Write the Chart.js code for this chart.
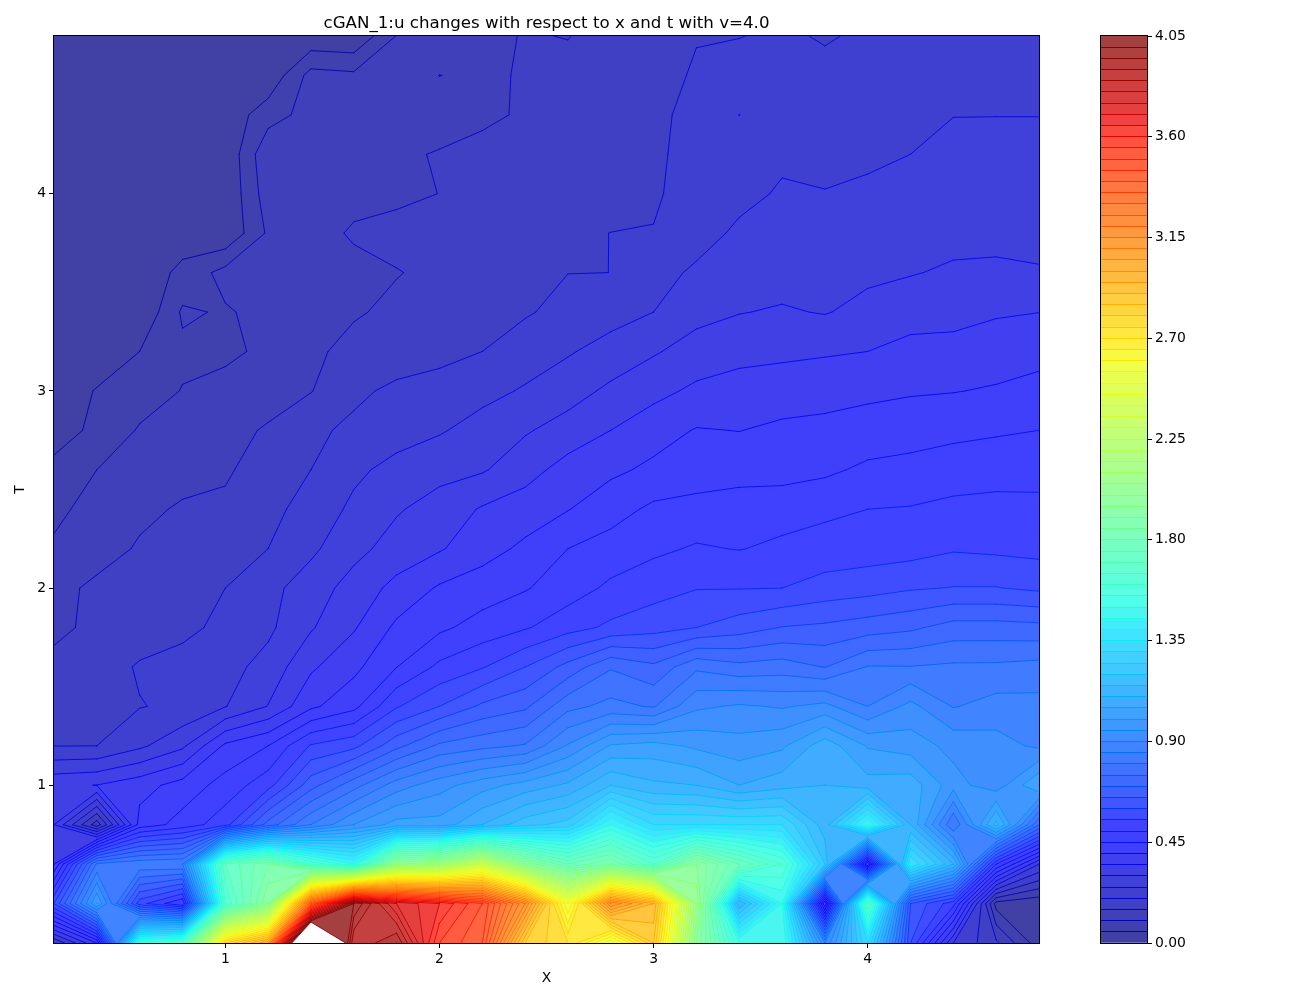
<!DOCTYPE html>
<html><head><meta charset="utf-8">
<style>html,body{margin:0;padding:0;background:#fff;width:1300px;height:1000px;overflow:hidden}
canvas{position:absolute;top:0}</style>
<script src="https://cdn.jsdelivr.net/npm/chart.js@4"></script>
</head><body>
<canvas id="main" width="1092" height="1000" style="left:0;width:1092px;height:1000px"></canvas>
<canvas id="bar" width="208" height="1000" style="left:1092px;width:208px;height:1000px"></canvas>
<script>
const titleText = 'cGAN_1:u changes with respect to x and t with v=4.0';
const xValues = [0.2,0.4,0.6,0.8,1.0,1.2,1.4,1.6,1.8,2.0,2.2,2.4,2.6,2.8,3.0,3.2,3.4,3.6,3.8,4.0,4.2,4.4,4.6,4.8];
const tValues = [0.2,0.4,0.6,0.8,1.0,1.2,1.4,1.6,1.8,2.0,2.2,2.4,2.6,2.8,3.0,3.2,3.4,3.6,3.8,4.0,4.2,4.4,4.6,4.8];
const xTicks = [1,2,3,4];
const yTicks = [1,2,3,4];
const barTicks = [0,0.45,0.9,1.35,1.8,2.25,2.7,3.15,3.6,4.05];
const levels = [0,0.05,0.1,0.15,0.2,0.25,0.3,0.35,0.4,0.45,0.5,0.55,0.6,0.65,0.7,0.75,0.8,0.85,0.9,0.95,1,1.05,1.1,1.15,1.2,1.25,1.3,1.35,1.4,1.45,1.5,1.55,1.6,1.65,1.7,1.75,1.8,1.85,1.9,1.95,2,2.05,2.1,2.15,2.2,2.25,2.3,2.35,2.4,2.45,2.5,2.55,2.6,2.65,2.7,2.75,2.8,2.85,2.9,2.95,3,3.05,3.1,3.15,3.2,3.25,3.3,3.35,3.4,3.45,3.5,3.55,3.6,3.65,3.7,3.75,3.8,3.85,3.9,3.95,4,4.05];

const uT48=[.02,.02,.02,.02,.02,.02,.01,.005,.102,.12,.141,.152,.149,.163,.178,.197,.199,.206,.1965,.206,.215,.22,.225,.23];
const uT46=[.02,.02,.02,.02,.02,.01,.118,.11,.125,.1505,.142,.154,.159,.172,.177,.207,.215,.22,.2105,.22,.225,.23,.23,.235];
const uT44=[.02,.02,.02,.02,.015,.079,.118,.12,.125,.13,.14,.156,.16,.17,.19,.213,.2503,.23,.225,.23,.24,.249,.249,.249];
const uT42=[.02,.02,.02,.02,.007,.14,.14,.14,.143,.153,.165,.17,.175,.18,.195,.21,.225,.241,.235,.24,.25,.265,.27,.27];
const uT40=[.02,.02,.02,.02,.005,.127,.13,.135,.14,.1505,.165,.17,.175,.18,.195,.2165,.235,.256,.252,.26,.275,.28,.285,.285];
const uT38=[.02,.02,.02,.02,.005,.108,.13,.156,.165,.17,.175,.18,.19,.2005,.2015,.228,.26,.275,.28,.285,.29,.285,.285,.285];
const uT36=[.005,.01,.012,.065,.117,.125,.13,.135,.148,.16,.17,.185,.1995,.20003,.23,.259,.275,.28,.285,.29,.297,.307,.31,.304];
const uT34=[.005,.01,.005,.107,.095,.115,.125,.145,.16,.17,.18,.195,.215,.23,.25,.285,.298,.305,.297,.315,.33,.335,.345,.3495];
const uT32=[.01,.03,.05,.09,.095,.105,.14,.165,.175,.185,.2,.225,.245,.27,.295,.32,.335,.34,.345,.35,.365,.365,.375,.385];
const uT30=[.03,.052,.075,.102,.108,.13,.148,.19,.21,.22,.235,.255,.28,.31,.335,.36,.37,.375,.38,.39,.395,.398,.405,.415];
const uT28=[.03,.06,.105,.12,.135,.155,.19,.21,.23,.245,.27,.295,.32,.35,.38,.403,.399,.41,.415,.42,.43,.44,.445,.45];
const uT26=[.062,.1,.125,.135,.143,.175,.2,.24,.265,.285,.295,.33,.37,.39,.41,.42,.43,.43,.44,.46,.465,.47,.475,.48];
const uT24=[.087,.12,.14,.155,.16,.185,.22,.26,.295,.32,.355,.375,.398,.43,.46,.47,.475,.48,.49,.5,.503,.515,.52,.515];
const uT22=[.108,.13,.155,.17,.185,.2,.24,.285,.32,.345,.38,.41,.45,.47,.49,.505,.498,.51,.52,.525,.53,.545,.54,.535];
const uT20=[.135,.16,.175,.185,.2,.235,.275,.32,.365,.406,.425,.446,.476,.51,.53,.548,.548,.55,.57,.58,.595,.602,.602,.59];
const uT18=[.14,.16,.175,.19,.21,.24,.295,.345,.41,.44,.47,.495,.53,.56,.58,.6,.625,.652,.66,.675,.69,.72,.72,.715];
const uT16=[.162,.176,.205,.215,.233,.267,.342,.387,.449,.511,.546,.6,.667,.745,.711,.79,.765,.775,.748,.803,.802,.809,.81,.818];
const uT14=[.18,.188,.198,.209,.248,.302,.39,.435,.545,.6,.66,.69,.785,.815,.795,.89,.907,.895,.915,.85,.915,.847,.87,.867];
const uT12=[.199,.2,.24,.29,.41,.45,.555,.585,.685,.76,.785,.805,.905,1.005,1.02,.99,.97,.99,1.08,.995,.975,.935,.92,.89];
const uT10=[.34,.351,.38,.42,.47,.53,.68,.78,.875,.93,.98,1.02,1.06,1.15,1.11,1.1,1.05,1.08,1.1,1.07,1.08,.97,.92,1.05];
const uT08=[.3,.07,.42,.47,.53,.72,.85,.95,1.02,1.02,1.1,1.18,1.22,1.45,1.3,1.3,1.3,1.3,1.12,1.45,1.1,.8,1.12,.75];
const uT06=[.35,.81,.84,.85,1.7,1.85,1.6,1.45,2.0,2.05,2.3,1.95,1.75,1.85,1.65,1.95,1.75,1.6,1.2,.35,1.35,1.1,.5,.25];
const uT04=[.6,1.0,.57,.45,1.6,1.95,3.3,4.0,3.75,3.65,3.5,3.15,2.55,3.15,2.95,2.05,1.1,1.45,.3,1.65,.65,.52,.03,.01];
const uT02=[.15,.35,1.5,1.6,2.75,3.0,4.9,3.85,3.95,3.55,3.45,2.85,2.75,2.5,2.85,1.95,1.5,1.5,.9,1.3,.6,.25,.16,.02];
const uRows=[uT02,uT04,uT06,uT08,uT10,uT12,uT14,uT16,uT18,uT20,uT22,uT24,uT26,uT28,uT30,uT32,uT34,uT36,uT38,uT40,uT42,uT44,uT46,uT48];

const FONT="'DejaVu Sans'";
const ALPHA=0.75, LINE_W=0.9, LINE_ALPHA=0.95, LINE_SHIFT=0.1;
const vmax=levels[levels.length-1];
function seg(v,pts){ for(let i=1;i<pts.length;i++){ if(v<=pts[i][0]){const a=pts[i-1],b=pts[i];return a[1]+(b[1]-a[1])*(v-a[0])/(b[0]-a[0]);} } return pts[pts.length-1][1]; }
function jet(z){ const v=Math.max(0,Math.min(1,z/vmax));
  return [seg(v,[[0,0],[.35,0],[.66,1],[.89,1],[1,.5]]),
          seg(v,[[0,0],[.125,0],[.375,1],[.64,1],[.91,0],[1,0]]),
          seg(v,[[0,.5],[.11,1],[.34,1],[.65,0],[1,0]])]; }
function fillColor(z){ const c=jet(z); return 'rgb('+c.map(k=>Math.round(255*(ALPHA*k+1-ALPHA))).join(',')+')'; }
function lineColor(z){ const c=jet(z+LINE_SHIFT); return 'rgba('+c.map(k=>Math.round(255*k)).join(',')+','+LINE_ALPHA+')'; }

function traceHigh(ctx,p,v,L){
  const hi=v.map(k=>k>=L), n=hi.filter(Boolean).length;
  if(n===0) return;
  const cut=(a,b)=>{const t=(L-v[a])/(v[b]-v[a]);return [p[a][0]+(p[b][0]-p[a][0])*t,p[a][1]+(p[b][1]-p[a][1])*t];};
  const poly=(arr)=>{ctx.moveTo(arr[0][0],arr[0][1]);for(let i=1;i<arr.length;i++)ctx.lineTo(arr[i][0],arr[i][1]);ctx.closePath();};
  const m=(v[0]+v[1]+v[2]+v[3])/4;
  if(n===2&&hi[0]===hi[2]&&m<L){
    for(let i=0;i<4;i++) if(hi[i]){const a=(i+3)%4,b=(i+1)%4;poly([cut(a,i),p[i],cut(i,b)]);}
    return;
  }
  const out=[];
  for(let i=0;i<4;i++){const k=(i+1)%4; if(hi[i])out.push(p[i]); if(hi[i]!==hi[k])out.push(cut(i,k));}
  poly(out);
}
function traceLine(ctx,p,v,L){
  const hi=v.map(k=>k>=L), n=hi.filter(Boolean).length;
  if(n===0||n===4) return;
  const cut=(a,b)=>{const t=(L-v[a])/(v[b]-v[a]);return [p[a][0]+(p[b][0]-p[a][0])*t,p[a][1]+(p[b][1]-p[a][1])*t];};
  const s=(a,b)=>{ctx.moveTo(a[0],a[1]);ctx.lineTo(b[0],b[1]);};
  if(n===2&&hi[0]===hi[2]){
    const m=(v[0]+v[1]+v[2]+v[3])/4, around=(m<L);
    for(let i=0;i<4;i++) if(hi[i]===around) s(cut((i+3)%4,i),cut(i,(i+1)%4));
    return;
  }
  const c=[];for(let i=0;i<4;i++){const k=(i+1)%4;if(hi[i]!==hi[k])c.push(cut(i,k));}
  s(c[0],c[1]);
}
const contourPlugin={id:'contour',beforeDatasetsDraw(chart){
  const {ctx,chartArea:a,scales:{x,y}}=chart;
  const px=xValues.map(v=>x.getPixelForValue(v)), py=tValues.map(v=>y.getPixelForValue(v));
  ctx.save();ctx.beginPath();ctx.rect(a.left,a.top,a.right-a.left,a.bottom-a.top);ctx.clip();
  const eachCell=(fn)=>{for(let j=0;j<tValues.length-1;j++)for(let i=0;i<xValues.length-1;i++){
    fn([[px[i],py[j]],[px[i+1],py[j]],[px[i+1],py[j+1]],[px[i],py[j+1]]],[uRows[j][i],uRows[j][i+1],uRows[j+1][i+1],uRows[j+1][i]]);}};
  for(let l=0;l<levels.length;l++){
    const L=levels[l];
    ctx.beginPath();
    eachCell((p,v)=>traceHigh(ctx,p,v,L));
    ctx.fillStyle=(l<levels.length-1)?fillColor((L+levels[l+1])/2):'#fff';
    ctx.fill();
  }
  ctx.lineWidth=LINE_W;ctx.lineCap='round';
  for(let l=1;l<levels.length;l++){
    const L=levels[l];
    ctx.beginPath();
    eachCell((p,v)=>traceLine(ctx,p,v,L));
    ctx.strokeStyle=lineColor(L);
    ctx.stroke();
  }
  ctx.restore();
}};
const framePlugin={id:'frame',afterDraw(chart){
  const {ctx,chartArea:a}=chart;ctx.save();ctx.strokeStyle='#000';ctx.lineWidth=1;
  ctx.strokeRect(Math.round(a.left)-.5,Math.round(a.top)-.5,Math.round(a.right-a.left)+1,Math.round(a.bottom-a.top)+1);ctx.restore();
}};
const barLinesPlugin={id:'barLines',afterDatasetsDraw(chart){
  const {ctx,chartArea:a,scales:{y}}=chart;ctx.save();ctx.lineWidth=1;
  for(let l=1;l<levels.length-1;l++){const py=Math.floor(y.getPixelForValue(levels[l]))+.5;ctx.strokeStyle=lineColor(levels[l]);
    ctx.beginPath();ctx.moveTo(a.left,py);ctx.lineTo(a.right,py);ctx.stroke();}
  ctx.restore();
}};
const tickFont={family:FONT,size:13.9};
const axisBase=(ticks)=>({
  type:'linear',
  grid:{display:true,drawOnChartArea:false,drawTicks:true,tickLength:5,tickColor:'#000',tickWidth:1},
  border:{display:true,color:'#000',width:1},
  afterBuildTicks(s){s.ticks=ticks.map(v=>({value:v}));},
});
const points=[];uRows.forEach((r,j)=>r.forEach((z,i)=>points.push({x:xValues[i],y:tValues[j],z})));
new Chart(document.getElementById('main'),{
  type:'scatter',
  data:{datasets:[{label:'u',data:points,pointRadius:0,pointHoverRadius:0,showLine:false}]},
  plugins:[contourPlugin,framePlugin],
  options:{responsive:false,animation:false,devicePixelRatio:1,
    layout:{padding:{left:0,right:53,top:0,bottom:0}},
    plugins:{legend:{display:false},tooltip:{enabled:false},
      title:{display:true,fullSize:false,text:titleText,color:'#000',font:{family:FONT,size:16.67,weight:'normal',lineHeight:1.2},padding:{top:14,bottom:2}}},
    scales:{
      x:Object.assign(axisBase(xTicks),{min:0.2,max:4.8,position:'bottom',
        ticks:{color:'#000',font:tickFont,padding:3,maxRotation:0,autoSkip:false,callback:v=>String(v)},
        title:{display:true,text:'X',color:'#000',font:tickFont,padding:{top:0,bottom:13}},
        afterFit(s){s.height=57;}}),
      y:Object.assign(axisBase(yTicks),{min:0.2,max:4.8,position:'left',
        ticks:{color:'#000',font:tickFont,padding:3,autoSkip:false,callback:v=>String(v)},
        title:{display:true,text:'T',color:'#000',font:tickFont,padding:{top:12,bottom:4}},
        afterFit(s){s.width=54;}})
    }}
});
const bands=levels.slice(0,-1).map((L,i)=>({label:String(L),data:[levels[i+1]-L],backgroundColor:fillColor((L+levels[i+1])/2),borderWidth:0,stack:'s'}));
new Chart(document.getElementById('bar'),{
  type:'bar',
  data:{labels:['u'],datasets:bands},
  plugins:[barLinesPlugin,framePlugin],
  options:{responsive:false,animation:false,devicePixelRatio:1,
    layout:{padding:{left:9,right:0,top:36,bottom:57}},
    datasets:{bar:{categoryPercentage:1,barPercentage:1}},
    plugins:{legend:{display:false},tooltip:{enabled:false},title:{display:false}},
    scales:{
      x:{display:false,stacked:true},
      y:Object.assign(axisBase(barTicks),{stacked:true,min:0,max:4.05,position:'right',
        ticks:{color:'#000',font:tickFont,padding:3,autoSkip:false,callback:v=>Number(v).toFixed(2)},
        afterFit(s){s.width=153;}})
    }}
});
</script>
</body></html>
